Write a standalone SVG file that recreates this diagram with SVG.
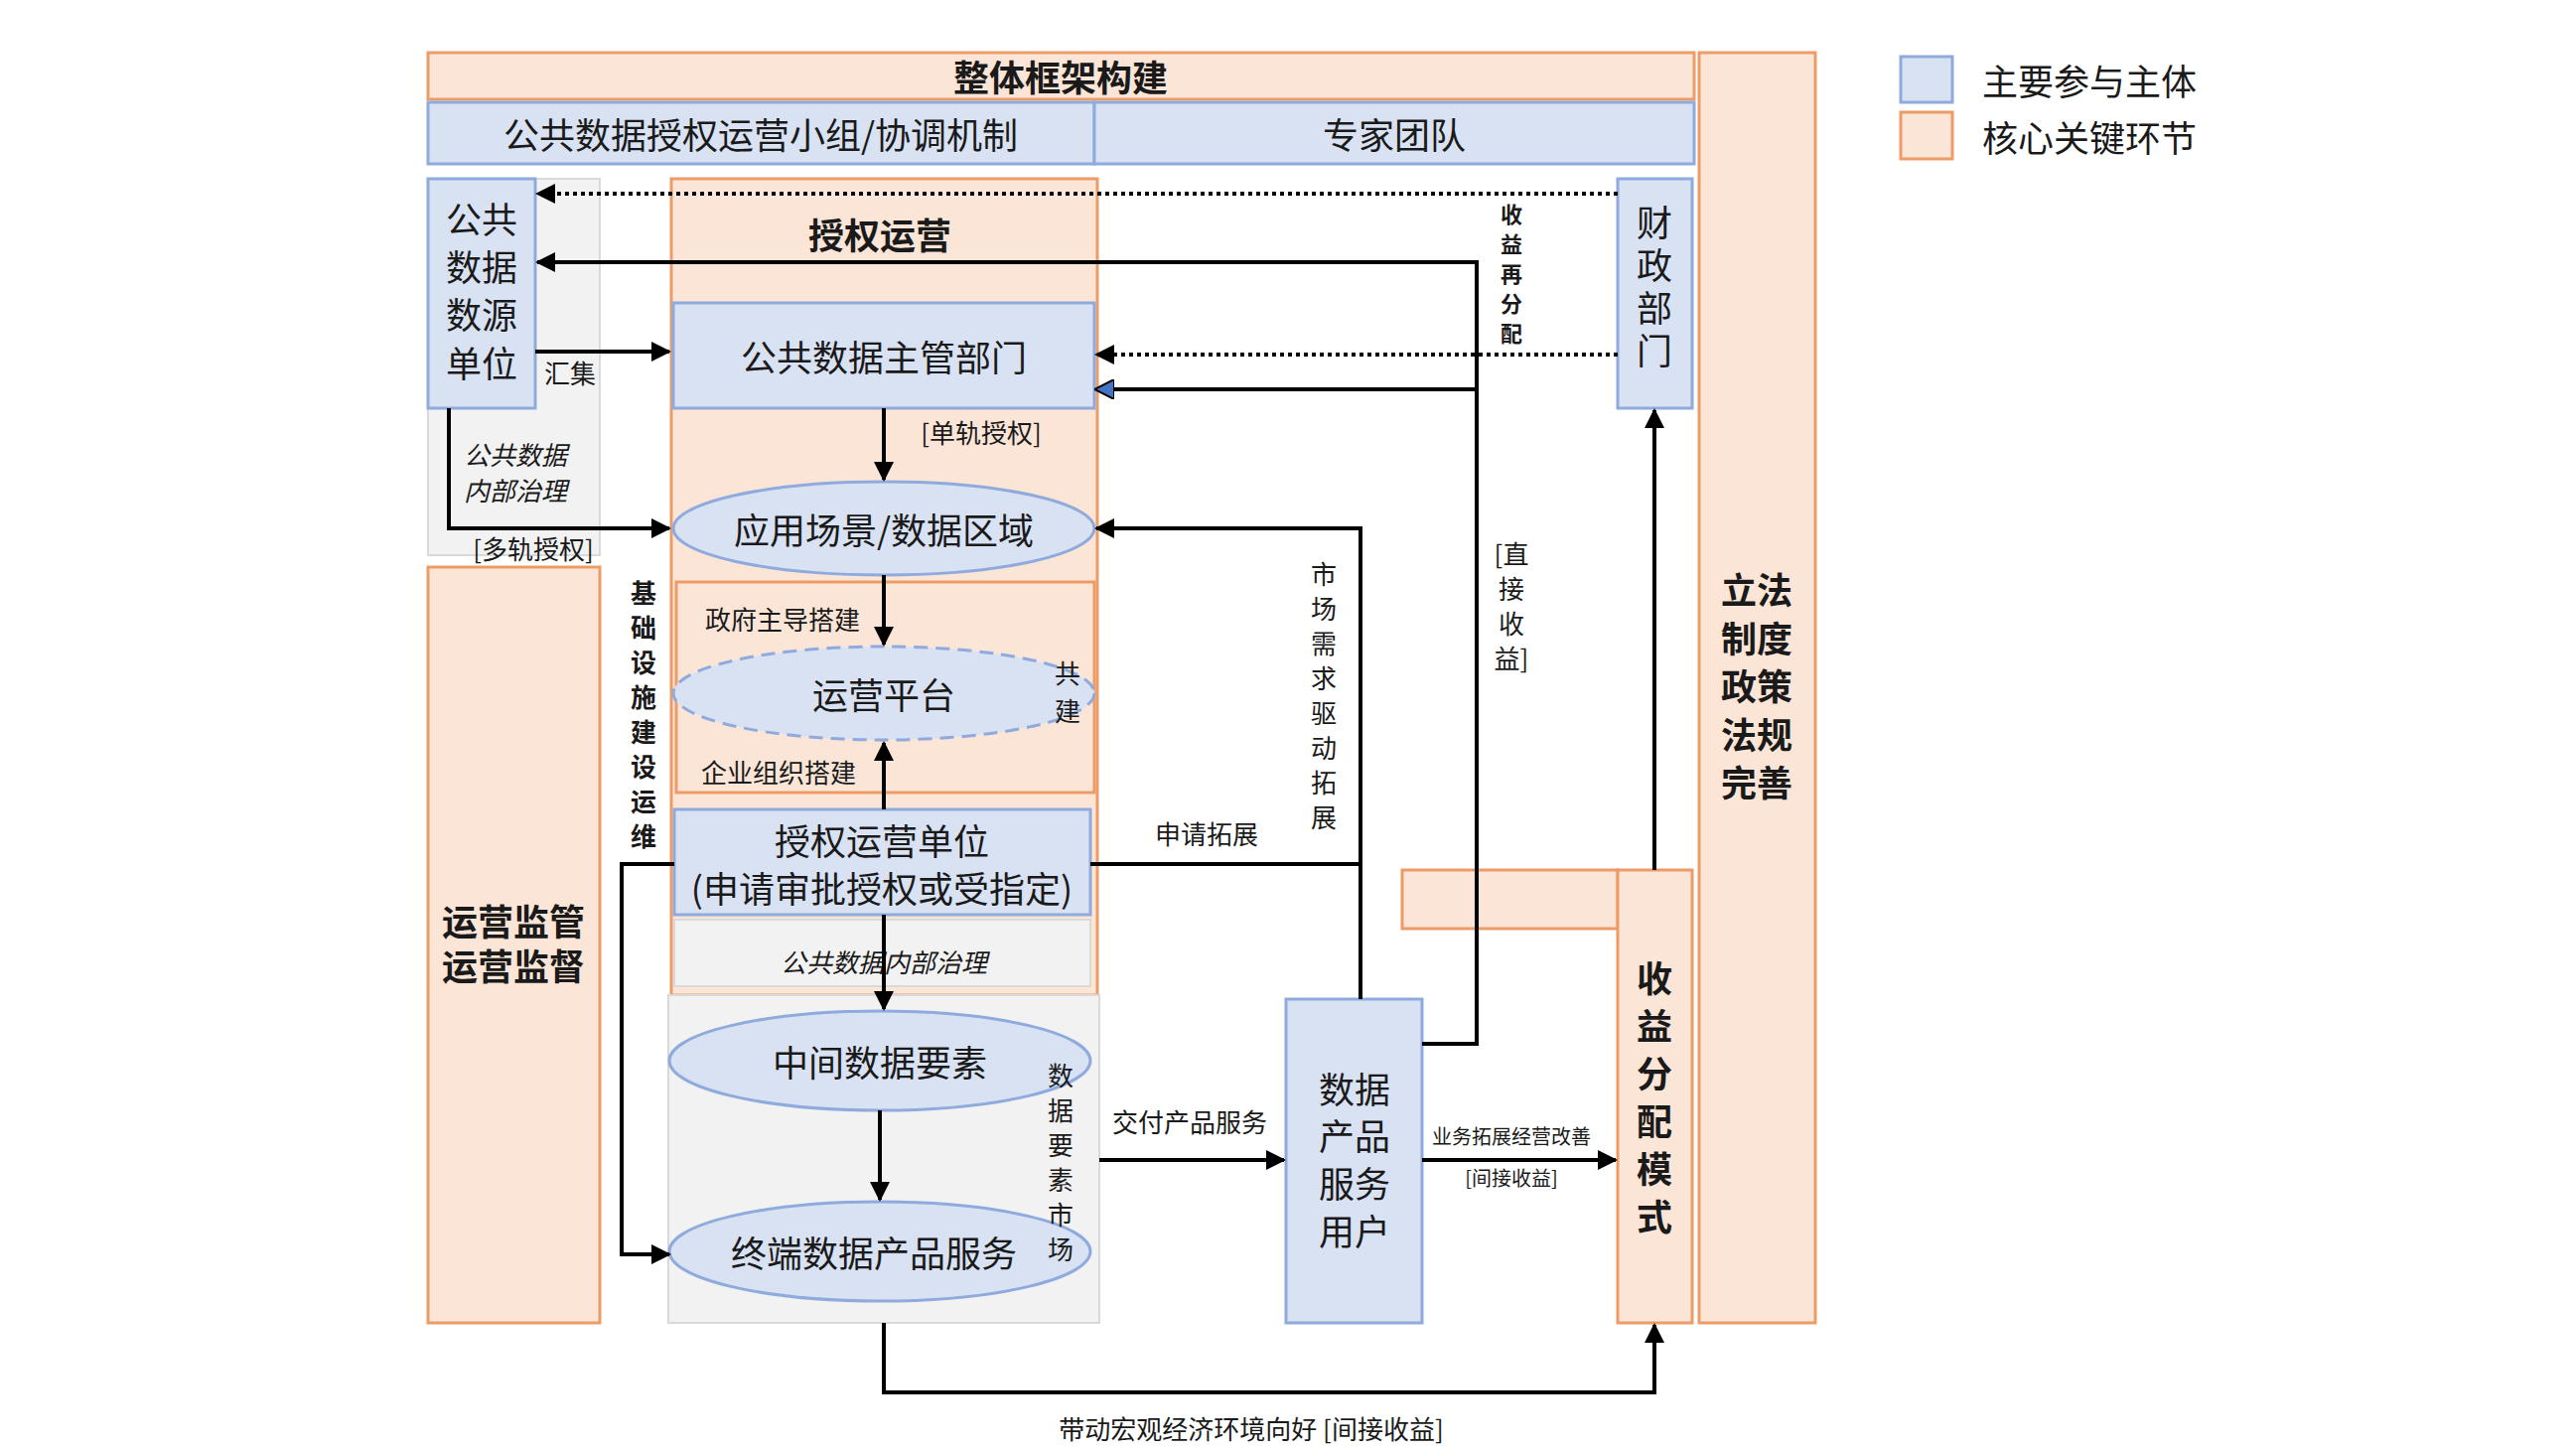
<svg xmlns="http://www.w3.org/2000/svg" width="2594" height="1460" viewBox="0 0 2594 1460">
<style>
text{font-family:"Noto Sans CJK SC","Liberation Sans",sans-serif;fill:#1a1a1a;text-anchor:middle;dominant-baseline:central}
.b{fill:#d9e2f3;stroke:#8faadc;stroke-width:3}
.o{fill:#fbe5d6;stroke:#ed9b67;stroke-width:3}
.g{fill:#f2f2f2;stroke:#d9d9d9;stroke-width:2}
.l{fill:none;stroke:#000;stroke-width:4}
.d{fill:none;stroke:#000;stroke-width:4;stroke-dasharray:4 4}
.t36{font-size:36px}.t30{font-size:30px}.t26{font-size:26px}.t22{font-size:22px}.t20{font-size:20px}
.bo{font-weight:bold}.it{font-style:italic}
</style>
<defs>
<marker id="a" viewBox="0 0 10 10" refX="9" refY="5" markerWidth="5" markerHeight="5" orient="auto"><path d="M0,0L10,5L0,10z" fill="#000"/></marker>
<marker id="ab" viewBox="0 0 10 10" refX="9" refY="5" markerWidth="5" markerHeight="5" orient="auto"><path d="M0,0L10,5L0,10z" fill="#4472c4" stroke="#000" stroke-width="1"/></marker>
</defs>
<rect width="2594" height="1460" fill="#fff"/>
<g id="bg">
<rect class="g" x="431" y="180" width="173" height="379"/>
<rect class="o" x="676" y="180" width="429" height="822"/>
<rect class="g" x="673" y="1002" width="434" height="330" stroke="none"/>
</g>
<g id="top"><rect class="o" x="431" y="53" width="1275" height="47"/><text class="t36 bo" x="1068" y="76">整体框架构建</text></g>
<g id="group"><rect class="b" x="431" y="103" width="671" height="62"/><text class="t36" x="766" y="134">公共数据授权运营小组/协调机制</text></g>
<g id="expert"><rect class="b" x="1102" y="103" width="604" height="62"/><text class="t36" x="1404" y="134">专家团队</text></g>
<g id="law"><rect class="o" x="1711" y="53" width="117" height="1279"/>
<text class="t36 bo" x="1769" y="592">立法</text><text class="t36 bo" x="1769" y="641">制度</text><text class="t36 bo" x="1769" y="689">政策</text><text class="t36 bo" x="1769" y="738">法规</text><text class="t36 bo" x="1769" y="786">完善</text></g>
<g id="legend"><rect class="b" x="1914" y="57" width="52" height="46"/><text class="t36" x="2104" y="80">主要参与主体</text>
<rect class="o" x="1914" y="113" width="52" height="47"/><text class="t36" x="2104" y="137">核心关键环节</text></g>
<g id="source"><rect class="b" x="431" y="180" width="108" height="231"/>
<text class="t36" x="485" y="219">公共</text><text class="t36" x="485" y="267">数据</text><text class="t36" x="485" y="315">数源</text><text class="t36" x="485" y="364">单位</text>
<text class="t26 it" x="519" y="456">公共数据</text><text class="t26 it" x="519" y="492">内部治理</text></g>
<g id="supervise"><rect class="o" x="431" y="571" width="173" height="761"/><text class="t36 bo" x="517" y="926">运营监管</text><text class="t36 bo" x="517" y="971">运营监督</text></g>
<g id="auth"><text class="t36 bo" x="886" y="235">授权运营</text></g>
<g id="dept"><rect class="b" x="678" y="305" width="424" height="106"/><text class="t36" x="890" y="358">公共数据主管部门</text></g>
<g id="scene"><ellipse class="b" cx="890" cy="532" rx="212" ry="47"/><text class="t36" x="890" y="532">应用场景/数据区域</text></g>
<g id="platbox"><rect class="o" x="681" y="586" width="421" height="212"/>
<text class="t26" x="788" y="622">政府主导搭建</text><text class="t26" x="784" y="776">企业组织搭建</text></g>
<g id="platform"><ellipse class="b" cx="890" cy="698" rx="212" ry="47" stroke-dasharray="14 8"/><text class="t36" x="890" y="698">运营平台</text>
<text class="t26" x="1075" y="676">共</text><text class="t26" x="1075" y="714">建</text></g>
<g id="unit"><rect class="b" x="679" y="815" width="419" height="106"/><text class="t36" x="888" y="845">授权运营单位</text><text class="t36" x="888" y="893">(申请审批授权或受指定)</text></g>
<g id="gov"><rect class="g" x="679" y="926" width="419" height="67"/><text class="t26 it" x="890" y="967">公共数据内部治理</text></g>
<g id="mid"><ellipse class="b" cx="886" cy="1068" rx="212" ry="50"/><text class="t36" x="886" y="1068">中间数据要素</text></g>
<g id="final"><ellipse class="b" cx="886" cy="1260" rx="212" ry="50"/><text class="t36" x="880" y="1260">终端数据产品服务</text></g>
<g id="user"><rect class="b" x="1295" y="1006" width="137" height="326"/>
<text class="t36" x="1364" y="1095">数据</text><text class="t36" x="1364" y="1142">产品</text><text class="t36" x="1364" y="1190">服务</text><text class="t36" x="1364" y="1238">用户</text></g>
<g id="finance"><rect class="b" x="1629" y="180" width="75" height="231"/>
<text class="t36" x="1666" y="292" style="writing-mode:vertical-rl;letter-spacing:7px">财政部门</text></g>
<g id="income"><rect class="o" x="1412" y="876" width="217" height="59"/><rect class="o" x="1629" y="876" width="75" height="456"/>
<text class="t36 bo" x="1666" y="983">收</text><text class="t36 bo" x="1666" y="1031">益</text><text class="t36 bo" x="1666" y="1079">分</text><text class="t36 bo" x="1666" y="1127">配</text><text class="t36 bo" x="1666" y="1175">模</text><text class="t36 bo" x="1666" y="1223">式</text></g>
<g id="connectors">
<path class="d" d="M1629,195H541" marker-end="url(#a)"/>
<path class="d" d="M1629,357H1104" marker-end="url(#a)"/>
<path class="l" d="M1432,1051H1487V264H541" marker-end="url(#a)"/>
<path class="l" d="M1487,392H1104" marker-end="url(#ab)"/>
<path class="l" d="M539,354H674" marker-end="url(#a)"/>
<path class="l" d="M452,411V532H674" marker-end="url(#a)"/>
<path class="l" d="M890,411V483" marker-end="url(#a)"/>
<path class="l" d="M890,579V649" marker-end="url(#a)"/>
<path class="l" d="M890,815V748" marker-end="url(#a)"/>
<path class="l" d="M890,921V1016" marker-end="url(#a)"/>
<path class="l" d="M886,1118V1208" marker-end="url(#a)"/>
<path class="l" d="M679,870H626V1263H674" marker-end="url(#a)"/>
<path class="l" d="M1098,870H1370"/>
<path class="l" d="M1370,1006V532H1104" marker-end="url(#a)"/>
<path class="l" d="M1107,1168H1293" marker-end="url(#a)"/>
<path class="l" d="M1432,1168H1627" marker-end="url(#a)"/>
<path class="l" d="M1666,876V413" marker-end="url(#a)"/>
<path class="l" d="M890,1332V1402H1666V1334" marker-end="url(#a)"/>
</g>
<g id="labels">
<text class="t26" x="574" y="374">汇集</text>
<text class="t26" x="537" y="551">[多轨授权]</text>
<text class="t26" x="988" y="434">[单轨授权]</text>
<text class="t26" x="1215" y="838">申请拓展</text>
<text class="t26" x="1198" y="1128">交付产品服务</text>
<text class="t20" x="1522" y="1143">业务拓展经营改善</text>
<text class="t20" x="1522" y="1185">[间接收益]</text>
<text class="t26" x="1260" y="1437">带动宏观经济环境向好 [间接收益]</text>
<text class="t22 bo" x="1522" y="214">收</text><text class="t22 bo" x="1522" y="244">益</text><text class="t22 bo" x="1522" y="274">再</text><text class="t22 bo" x="1522" y="304">分</text><text class="t22 bo" x="1522" y="334">配</text>
<text class="t26" x="1522" y="556">[直</text><text class="t26" x="1522" y="591">接</text><text class="t26" x="1522" y="626">收</text><text class="t26" x="1522" y="661">益]</text>
<text class="t26" x="1333" y="576">市</text><text class="t26" x="1333" y="611">场</text><text class="t26" x="1333" y="646">需</text><text class="t26" x="1333" y="681">求</text><text class="t26" x="1333" y="716">驱</text><text class="t26" x="1333" y="751">动</text><text class="t26" x="1333" y="786">拓</text><text class="t26" x="1333" y="821">展</text>
<text class="t26 bo" x="648" y="595">基</text><text class="t26 bo" x="648" y="630">础</text><text class="t26 bo" x="648" y="665">设</text><text class="t26 bo" x="648" y="700">施</text><text class="t26 bo" x="648" y="735">建</text><text class="t26 bo" x="648" y="770">设</text><text class="t26 bo" x="648" y="805">运</text><text class="t26 bo" x="648" y="840">维</text>
<text class="t26" x="1068" y="1081">数</text><text class="t26" x="1068" y="1116">据</text><text class="t26" x="1068" y="1151">要</text><text class="t26" x="1068" y="1186">素</text><text class="t26" x="1068" y="1221">市</text><text class="t26" x="1068" y="1256">场</text>
</g>
</svg>
